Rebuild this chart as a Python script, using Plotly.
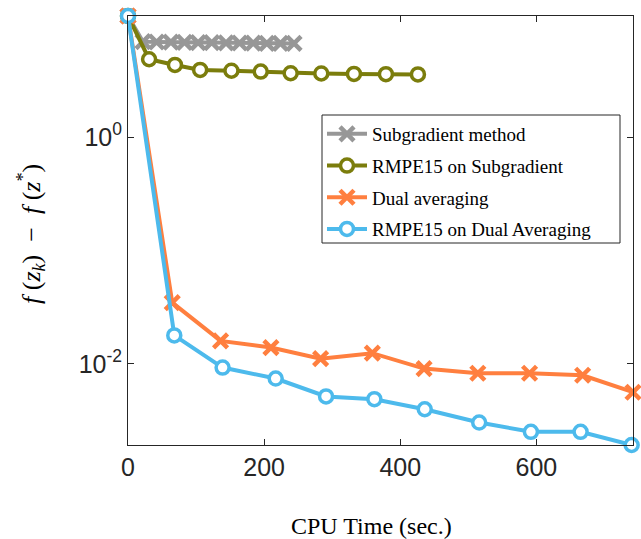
import numpy as np
import plotly.graph_objects as go

# ---- data ----
sub_x = [0, 22, 42, 63, 83, 103, 123, 144, 164, 184, 204, 224, 244]
sub_y = [11.7, 6.95, 6.9, 6.88, 6.85, 6.82, 6.8, 6.78, 6.76, 6.74, 6.72, 6.71, 6.7]

rmpe_sub_x = [0, 31, 69, 106, 152, 195, 239, 284, 332, 379, 426]
rmpe_sub_y = [11.7, 4.86, 4.33, 3.91, 3.85, 3.78, 3.66, 3.64, 3.61, 3.59, 3.57]

dual_x = [0, 65, 136, 210, 283, 359, 435, 514, 590, 668, 742]
dual_y = [11.7, 0.0346, 0.0159, 0.0139, 0.0111, 0.0124, 0.00907, 0.00825, 0.00825, 0.00792, 0.00561]

rmpe_dual_x = [0, 68, 139, 217, 291, 362, 436, 516, 592, 665, 740]
rmpe_dual_y = [11.7, 0.0178, 0.00926, 0.00741, 0.00515, 0.00487, 0.00397, 0.00303, 0.00251, 0.00251, 0.00192]

names = ["Subgradient method", "RMPE15 on Subgradient", "Dual averaging", "RMPE15 on Dual Averaging"]
colors = ["#979797", "#7B7D0C", "#FF7F3F", "#4DBAEC"]

y_tickvals = [0.01, 1]
y_ticktext = ["10<sup>-2</sup>", "10<sup>0</sup>"]
x_tickvals = [0, 200, 400, 600]

fig = go.Figure()

series = [(sub_x, sub_y, "x"), (rmpe_sub_x, rmpe_sub_y, "o"),
          (dual_x, dual_y, "x"), (rmpe_dual_x, rmpe_dual_y, "o")]

for i, ((xs, ys, m), name, c) in enumerate(zip(series, names, colors)):
    if m == "x":
        marker = dict(symbol="x-thin", size=14, color=c, line=dict(color=c, width=4.5))
    else:
        marker = dict(symbol="circle", size=13, color="white", line=dict(color=c, width=3.5))
    fig.add_trace(go.Scatter(x=xs, y=ys, mode="lines+markers", name=name,
                             legendgroup=f"g{i}",
                             line=dict(color=c, width=4), marker=marker,
                             cliponaxis=False))

all_y = sub_y + rmpe_sub_y + dual_y + rmpe_dual_y
all_x = sub_x + rmpe_sub_x + dual_x + rmpe_dual_x
axcol = "#262626"

L, R, T, B = 128, 8, 16, 94
W, H = 641, 539
pw, ph = W - L - R, H - T - B


def px(x):
    return (x - L) / pw


def py(y):
    return (H - B - y) / ph


fig.update_layout(
    width=W, height=H,
    margin=dict(l=L, r=R, t=T, b=B),
    plot_bgcolor="white", paper_bgcolor="white",
    showlegend=True,
    legend=dict(x=px(322), y=py(115), xanchor="left", yanchor="top",
                bgcolor="rgba(0,0,0,0)", borderwidth=0,
                font=dict(family="Liberation Serif", size=19, color="black"),
                tracegroupgap=4, itemwidth=40),
    shapes=[dict(type="rect", xref="paper", yref="paper",
                 x0=px(322), x1=px(620), y0=py(243), y1=py(115),
                 line=dict(color=axcol, width=1), fillcolor="white", layer="below")],
    xaxis=dict(range=[min(all_x), max(all_x)], tickvals=x_tickvals, automargin=False,
               ticks="inside", ticklen=6, tickcolor=axcol, mirror="ticks",
               showline=True, linecolor=axcol, linewidth=1, showgrid=False, zeroline=False,
               tickfont=dict(family="Liberation Sans", size=25, color=axcol)),
    yaxis=dict(type="log", range=[np.log10(min(all_y)), np.log10(max(all_y))],
               tickvals=y_tickvals, ticktext=y_ticktext, automargin=False,
               ticks="inside", ticklen=6, tickcolor=axcol, mirror="ticks",
               showline=True, linecolor=axcol, linewidth=1, showgrid=False, zeroline=False,
               tickfont=dict(family="Liberation Sans", size=25, color=axcol)),
    annotations=[
        dict(text="CPU Time (sec.)", xref="paper", yref="paper",
             x=px(371), y=py(526), xanchor="center", yanchor="middle",
             showarrow=False, font=dict(family="Liberation Serif", size=24, color="black")),
        dict(text="<i>f</i> (<i>z<sub>k</sub></i>)  −  <i>f</i> (<i>z</i><sup>*</sup>)",
             xref="paper", yref="paper", textangle=-90,
             x=px(31), y=py(234), xanchor="center", yanchor="middle",
             showarrow=False, font=dict(family="Liberation Serif", size=26, color="black")),
    ],
)

fig.write_html("out.html", config={"displayModeBar": False},
               post_script="document.body.style.margin='0';")
